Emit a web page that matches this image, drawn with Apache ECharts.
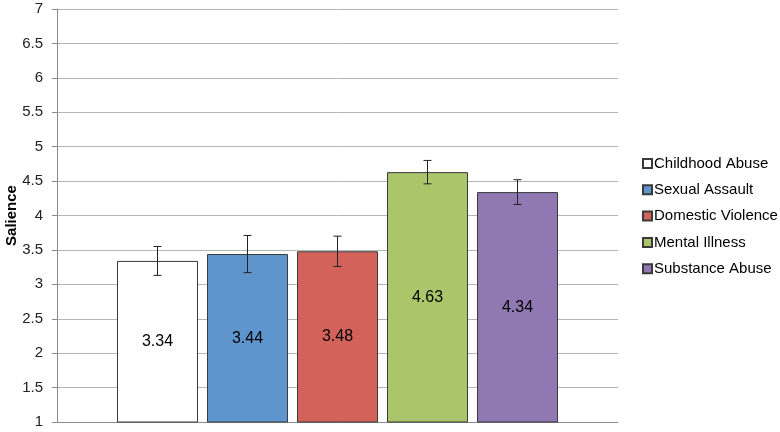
<!DOCTYPE html>
<html>
<head>
<meta charset="utf-8">
<script src="https://cdn.jsdelivr.net/npm/echarts@6/dist/echarts.min.js"></script>
<style>
    html, body { margin: 0; padding: 0; background: #fff; }
    #chart { width: 780px; height: 432px; }
</style>
</head>
<body>
<div id="chart"></div>
<script>
// data
var categories = ['Childhood Abuse', 'Sexual Assault', 'Domestic Violence', 'Mental Illness', 'Substance Abuse'];
var means = [3.34, 3.44, 3.48, 4.63, 4.34];
var errors = [0.21, 0.27, 0.22, 0.17, 0.18];
var colors = ['#ffffff', '#5e95cc', '#d3625b', '#abc56b', '#9078b3'];
var yTicks = { min: 1, max: 7, step: 0.5 };

var BAR_W = 81;
var BAR_GAP = 9;
var FONT = '"Liberation Sans", Arial, sans-serif';

var chart = echarts.init(document.getElementById('chart'));

//one bar series per topic, all sitting in a single category
var series = categories.map(function (name, i) {
    return {
        name: name,
        type: 'bar',
        barWidth: BAR_W,
        barGap: (BAR_GAP / BAR_W * 100) + '%',
        data: [means[i]],
        itemStyle: {
            color: colors[i],
            borderColor: '#3a3a3a',
            borderWidth: 1
        },
        label: {
            show: true,
            position: 'inside',
            color: '#000',
            fontFamily: FONT,
            fontSize: 16,
            formatter: function (p) { return p.value.toFixed(2); }
        },
        silent: true
    };
});

//error bars
var errData = means.map(function (m, i) {
    return [i, m - errors[i], m + errors[i]];
});
series.push({
    type: 'custom',
    silent: true,
    z: 5,
    data: errData,
    renderItem: function (params, api) {
        var idx = api.value(0);
        var lo = api.coord([0, api.value(1)]);
        var hi = api.coord([0, api.value(2)]);
        var x = lo[0] + (idx - 2) * (BAR_W + BAR_GAP);
        var cap = 4;
        var style = { stroke: '#222', lineWidth: 1 };
        return {
            type: 'group',
            children: [
                { type: 'line', shape: { x1: x, y1: lo[1], x2: x, y2: hi[1] }, style: style },
                { type: 'line', shape: { x1: x - cap, y1: lo[1], x2: x + cap, y2: lo[1] }, style: style },
                { type: 'line', shape: { x1: x - cap, y1: hi[1], x2: x + cap, y2: hi[1] }, style: style }
            ]
        };
    }
});

var option = {
    animation: false,
    textStyle: { fontFamily: FONT },
    grid: {
        left: 57,
        right: 162,
        top: 9,
        bottom: 10,
        containLabel: false,
        outerBoundsMode: 'none'
    },
    legend: {
        data: categories,
        orient: 'vertical',
        left: 637,
        top: 151,
        itemWidth: 9,
        itemHeight: 9,
        itemGap: 11.3,
        icon: 'rect',
        textStyle: { fontSize: 15, color: '#000', fontFamily: FONT, padding: [0, 0, 0, -3] }
    },
    xAxis: {
        type: 'category',
        data: [''],
        axisLine: { lineStyle: { color: '#8a8a8a' } },
        axisTick: { show: false },
        axisLabel: { show: false }
    },
    yAxis: {
        type: 'value',
        min: yTicks.min,
        max: yTicks.max,
        interval: yTicks.step,
        name: 'Salience',
        nameLocation: 'middle',
        nameGap: 38,
        nameMoveOverlap: false,
        nameTextStyle: { fontSize: 15, fontWeight: 'bold', color: '#000', fontFamily: FONT },
        axisLine: { show: true, lineStyle: { color: '#8a8a8a' } },
        axisTick: { show: true, length: 5, lineStyle: { color: '#8a8a8a' } },
        axisLabel: { fontSize: 15, color: '#222', margin: 14, fontFamily: FONT },
        splitLine: { lineStyle: { color: '#b5b5b5' } }
    },
    series: series
};
chart.setOption(option);
</script>
</body>
</html>
